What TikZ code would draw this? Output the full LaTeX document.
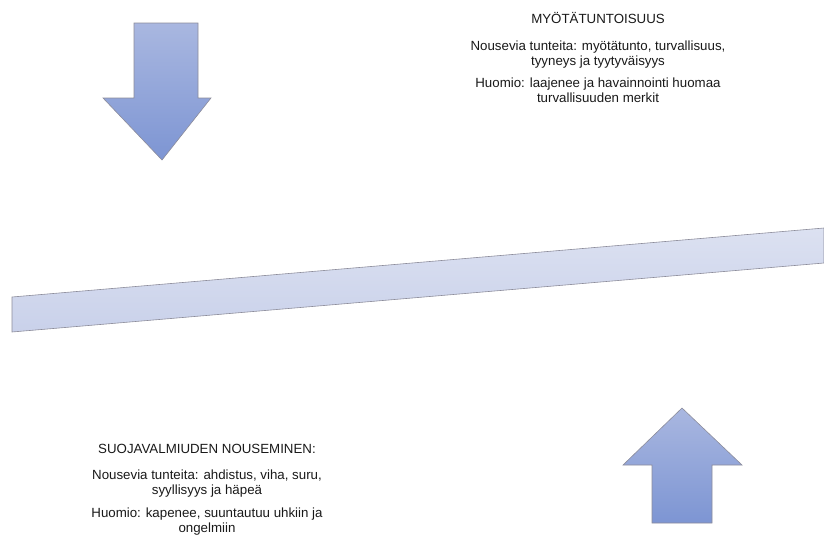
\documentclass[tikz,border=0pt]{standalone}
\usepackage{fontspec}
\setmainfont{Liberation Sans}
\definecolor{arrtop}{HTML}{A9B7E0}
\definecolor{arrbot}{HTML}{7D95D3}
\definecolor{bartop}{HTML}{DCE1F1}
\definecolor{barbot}{HTML}{C9D1EA}
\definecolor{edge}{HTML}{8C8C9A}
\tikzset{
  bigarrow/.style={draw=edge, line width=0.6pt, top color=arrtop, bottom color=arrbot},
  beam/.style={draw=edge, line width=0.6pt, top color=bartop, bottom color=barbot},
  txt/.style={font=\fontsize{13.3}{15}\selectfont, align=center, inner sep=0pt, text=black!90, anchor=base}
}
\begin{document}
\begin{tikzpicture}[x=1pt,y=-1pt]
\useasboundingbox (0,0) rectangle (824,549);
% down arrow
\draw[bigarrow] (134,23) -- (198,23) -- (198,98) -- (211,98) -- (162,160) -- (103,98) -- (134,98) -- cycle;
% up arrow
\draw[bigarrow] (682,408) -- (742,465) -- (712,465) -- (712,523) -- (652,523) -- (652,465) -- (623,465) -- cycle;
% beam
\draw[beam] (12,297) -- (824,228) -- (824,263) -- (12,332) -- cycle;
% top text
\node[txt] (t1) at (598,23) {MYÖTÄTUNTOISUUS};
\node[txt] (t2) at (598,65) {Nousevia tunteita: myötätunto, turvallisuus,\\tyyneys ja tyytyväisyys};
\node[txt] (t3) at (598,102) {Huomio: laajenee ja havainnointi huomaa\\turvallisuuden merkit};
% bottom text
\node[txt] (b1) at (207,453) {SUOJAVALMIUDEN NOUSEMINEN:};
\node[txt] (b2) at (207,494) {Nousevia tunteita: ahdistus, viha, suru,\\syyllisyys ja häpeä};
\node[txt] (b3) at (207,532) {Huomio: kapenee, suuntautuu uhkiin ja\\ongelmiin};
\end{tikzpicture}
\end{document}
